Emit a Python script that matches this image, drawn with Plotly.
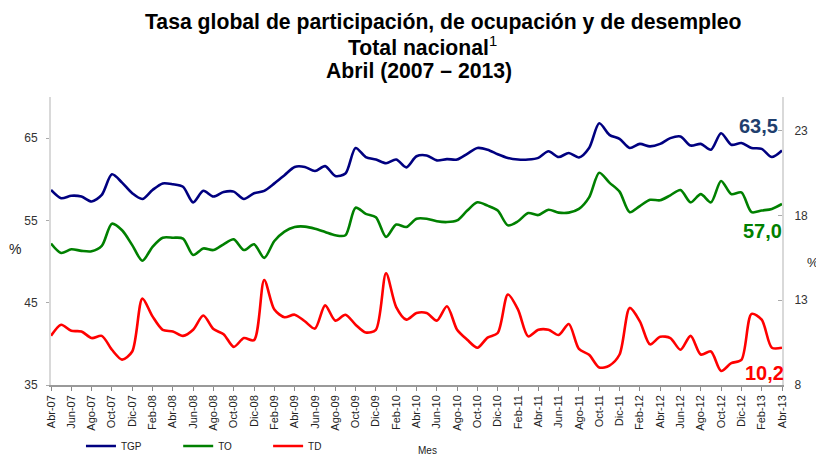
import plotly.graph_objects as go

# ---- data ----
month_names = ['Ene', 'Feb', 'Mar', 'Abr', 'May', 'Jun', 'Jul', 'Ago', 'Sep', 'Oct', 'Nov', 'Dic']
meses = []
for yy in range(2007, 2014):
    for m in range(12):
        if (yy == 2007 and m < 3) or (yy == 2013 and m > 3):
            continue
        meses.append(f"{month_names[m]}-{str(yy)[2:]}")

tgp = [58.7, 57.7, 58.0, 57.9, 57.3, 58.1, 60.6, 59.6, 58.3, 57.6, 58.7, 59.5,
       59.4, 59.1, 57.2, 58.6, 57.9, 58.45, 58.5, 57.6, 58.3, 58.6, 59.5, 60.5,
       61.5, 61.5, 61.0, 61.6, 60.4, 60.7, 63.8, 62.7, 62.4, 61.95, 62.4, 61.45,
       62.8, 62.9, 62.3, 62.45, 62.4, 63.1, 63.8, 63.6, 63.05, 62.6, 62.4, 62.4,
       62.6, 63.4, 62.7, 63.2, 62.65, 63.8, 66.8, 65.4, 64.9, 63.8, 64.3, 64.0,
       64.3, 65.0, 65.2, 64.1, 64.3, 63.6, 65.6, 64.2, 64.4, 63.8, 63.7, 62.7,
       63.5]

to = [52.2, 51.05, 51.5, 51.3, 51.25, 51.9, 54.6, 53.8, 52.0, 50.1, 51.8, 52.9,
      52.9, 52.8, 50.8, 51.6, 51.4, 52.1, 52.7, 51.4, 52.1, 50.45, 52.5, 53.65,
      54.2, 54.25, 54.0, 53.6, 53.2, 53.2, 56.55, 55.8, 55.4, 53.0, 54.5, 54.2,
      55.2, 55.2, 54.9, 54.8, 55.0, 56.2, 57.2, 56.8, 56.2, 54.4, 54.9, 55.9,
      55.65, 56.3, 55.95, 55.95, 56.4, 57.8, 60.8, 59.6, 58.5, 56.0, 56.75, 57.5,
      57.45, 58.05, 58.7, 57.2, 58.2, 57.2, 59.8, 58.2, 58.4, 56.0, 56.2, 56.4,
      57.0]

td = [10.9, 11.56, 11.2, 11.16, 10.77, 10.9, 10.08, 9.5, 9.98, 13.1, 12.05, 11.26,
      11.16, 10.9, 11.26, 12.1, 11.3, 11.0, 10.25, 10.77, 10.65, 14.2, 12.45, 12.0,
      12.15, 11.76, 11.33, 12.7, 11.8, 12.15, 11.56, 11.1, 11.26, 14.6, 12.6, 11.86,
      12.25, 12.25, 11.8, 12.65, 11.26, 10.67, 10.2, 10.8, 11.07, 13.34, 12.45, 10.87,
      11.26, 11.26, 10.95, 11.6, 10.13, 9.78, 9.03, 9.15, 9.8, 12.55, 11.76, 10.4,
      10.85, 10.77, 10.08, 10.9, 9.8, 9.98, 8.83, 9.29, 9.48, 12.2, 11.86, 10.2,
      10.2]

left_ticks = [35, 45, 55, 65]
right_ticks = [8, 13, 18, 23]
x_ticks = meses[::2]

FONT = "Liberation Sans, Arial, sans-serif"
C_TGP, C_TO, C_TD = '#000080', '#008000', '#FF0000'

fig = go.Figure()
fig.add_trace(go.Scatter(x=meses, y=tgp, name='TGP', mode='lines', legend='legend',
                         line=dict(color=C_TGP, width=2.6, shape='spline', smoothing=0.8)))
fig.add_trace(go.Scatter(x=meses, y=to, name='TO', mode='lines', legend='legend2',
                         line=dict(color=C_TO, width=2.6, shape='spline', smoothing=0.8)))
fig.add_trace(go.Scatter(x=meses, y=td, name='TD', mode='lines', yaxis='y2', legend='legend3',
                         line=dict(color=C_TD, width=2.6, shape='spline', smoothing=0.8)))

def fmt(v):
    return f"{v:.1f}".replace('.', ',')

legend_common = dict(orientation='h', yanchor='middle', xanchor='left', y=-0.212,
                     font=dict(family=FONT, size=10, color='#222'), bgcolor='rgba(0,0,0,0)',
                     itemwidth=30)

TITLE_SIZE = 21.2
annotations = [
    dict(text='<b>Tasa global de participación, de ocupación y de desempleo</b>', xref='paper', yref='paper',
         x=0.5376, y=1.262, xanchor='center', yanchor='middle', showarrow=False,
         font=dict(family=FONT, size=TITLE_SIZE, color='#000')),
    dict(text='<b>Total nacional</b><sup>1</sup>', xref='paper', yref='paper',
         x=0.508, y=1.176, xanchor='center', yanchor='middle', showarrow=False,
         font=dict(family=FONT, size=TITLE_SIZE, color='#000')),
    dict(text='<b>Abril (2007 – 2013)</b>', xref='paper', yref='paper',
         x=0.5032, y=1.092, xanchor='center', yanchor='middle', showarrow=False,
         font=dict(family=FONT, size=TITLE_SIZE, color='#000')),
    dict(text='%', xref='paper', yref='paper', x=-0.0492, y=0.472, xanchor='center', yanchor='middle',
         showarrow=False, font=dict(family=FONT, size=14, color='#222')),
    dict(text='%', xref='paper', yref='paper', x=1.0424, y=0.427, xanchor='center', yanchor='middle',
         showarrow=False, font=dict(family=FONT, size=13, color='#222')),
    dict(text='Mes', xref='paper', yref='paper', x=0.5157, y=-0.228, xanchor='center', yanchor='middle',
         showarrow=False, font=dict(family=FONT, size=10, color='#222')),
    dict(text=f'<b>{fmt(tgp[-1])}</b>', x=meses[-1], y=tgp[-1], xref='x', yref='y',
         xshift=-24, yshift=24, xanchor='center', yanchor='middle', showarrow=False,
         font=dict(family=FONT, size=20, color='#1F3F6E')),
    dict(text=f'<b>{fmt(to[-1])}</b>', x=meses[-1], y=to[-1], xref='x', yref='y',
         xshift=-20, yshift=-27, xanchor='center', yanchor='middle', showarrow=False,
         font=dict(family=FONT, size=20, color=C_TO)),
    dict(text=f'<b>{fmt(td[-1])}</b>', x=meses[-1], y=td[-1], xref='x', yref='y2',
         xshift=-18, yshift=-25, xanchor='center', yanchor='middle', showarrow=False,
         font=dict(family=FONT, size=20, color=C_TD)),
]

# The page body adds an 8px offset; size the figure so the plot lands where the reference has it.
fig.update_layout(
    width=816, height=448,
    margin=dict(l=43, r=42, t=89, b=71, autoexpand=False),
    paper_bgcolor='white', plot_bgcolor='white',
    font=dict(family=FONT, color='#222'),
    showlegend=True,
    legend=dict(legend_common, x=0.0410),
    legend2=dict(legend_common, x=0.1740),
    legend3=dict(legend_common, x=0.2970),
    xaxis=dict(type='category', range=[0, len(meses) - 1], tickvals=x_ticks, ticktext=x_ticks,
               tickangle=-90, ticks='outside', ticklen=4, tickcolor='#888', showline=True,
               linecolor='#999', linewidth=1.5, showgrid=False, zeroline=False,
               tickfont=dict(family=FONT, size=11, color='#222')),
    yaxis=dict(range=[35, 70], tickvals=left_ticks, ticks='outside', ticklen=3, tickcolor='#aaa',
               showline=True, linecolor='#d9d9d9', linewidth=2, showgrid=False, zeroline=False,
               ticklabelstandoff=6,
               tickfont=dict(family=FONT, size=12, color='#333')),
    yaxis2=dict(range=[8, 25], tickvals=right_ticks, overlaying='y', side='right', ticks='inside',
                ticklen=4, tickcolor='#aaa', showline=True, linecolor='#d9d9d9', linewidth=2,
                showgrid=False, zeroline=False, ticklabelstandoff=8,
                tickfont=dict(family=FONT, size=12, color='#333')),
    annotations=annotations,
)

fig.write_html("out.html")
